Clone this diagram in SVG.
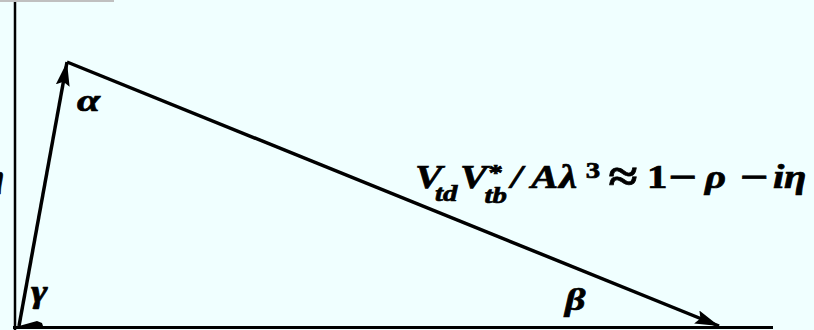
<svg xmlns="http://www.w3.org/2000/svg" width="814" height="330" viewBox="0 0 814 330">
  <style>
    .ln { stroke: #000; stroke-width: 3.5; fill: none; }
    .lbl { font-family: "Liberation Serif", "DejaVu Serif", serif; font-weight: bold; font-style: italic; fill: #000; stroke: #000; stroke-width: 0.7; }
    .up { font-style: normal; }
  </style>
  <defs>
    <marker id="ah" markerUnits="userSpaceOnUse" markerWidth="26" markerHeight="16" refX="24" refY="7" orient="auto">
      <path d="M0,0 L24,7 L0,14 L4,7 z" fill="#000"/>
    </marker>
  </defs>
  <rect x="0" y="0" width="814" height="330" fill="#f0ffff"/>
  <rect x="0" y="0" width="114" height="2" fill="#c0c0c0"/>
  <g id="axes">
    <line x1="15" y1="2" x2="15" y2="330" stroke="#000" stroke-width="2.5"/>
    <line x1="13" y1="327.5" x2="773" y2="327.5" stroke="#000" stroke-width="3"/>
    <polygon points="19,326 37,321 42,323 43,326" fill="#000"/>
  </g>
  <g id="connectors">
    <line class="ln" x1="19" y1="326" x2="67" y2="62" marker-end="url(#ah)"/>
    <line class="ln" x1="67" y1="62" x2="719" y2="326" marker-end="url(#ah)"/>
  </g>
  <g id="label-alpha"><text class="lbl" transform="translate(77,111) scale(1.3,1)" x="0" y="0" font-size="32">α</text></g>
  <g id="label-gamma"><text class="lbl" transform="translate(31,302) scale(1.25,1)" x="0" y="0" font-size="32">γ</text></g>
  <g id="label-beta"><text class="lbl" transform="translate(565,310) scale(1.25,1)" x="0" y="0" font-size="32">β</text></g>
  <g id="label-eta-edge"><text class="lbl" x="4" y="187" font-size="32" text-anchor="end">η</text></g>
  <g id="label-side" transform="translate(413,0) scale(1.2,1)">
    <text class="lbl" font-size="34" y="188">
      <tspan x="1.7">V</tspan>
      <tspan x="18.3" y="201" font-size="24">td</tspan>
      <tspan x="39.2" y="188">V</tspan>
      <tspan x="63" y="180" font-size="24" class="up">*</tspan>
      <tspan x="59.5" y="203" font-size="24">tb</tspan>
      <tspan x="81.7" y="188">/</tspan>
      <tspan x="98.3" y="188">A</tspan>
      <tspan x="121.7" y="188">λ</tspan>
      <tspan x="144" y="178" font-size="24" class="up">3</tspan>
      <tspan x="163" y="191" font-size="44" class="up">≈</tspan>
      <tspan x="195" y="188" class="up">1</tspan>
      <tspan x="213" y="191" font-size="42" class="up">−</tspan>
      <tspan x="243.3" y="188">ρ</tspan>
      <tspan x="272.5" y="191" font-size="42" class="up">−</tspan>
      <tspan x="300" y="188">i</tspan>
      <tspan x="309.2" y="188">η</tspan>
    </text>
  </g>
</svg>
